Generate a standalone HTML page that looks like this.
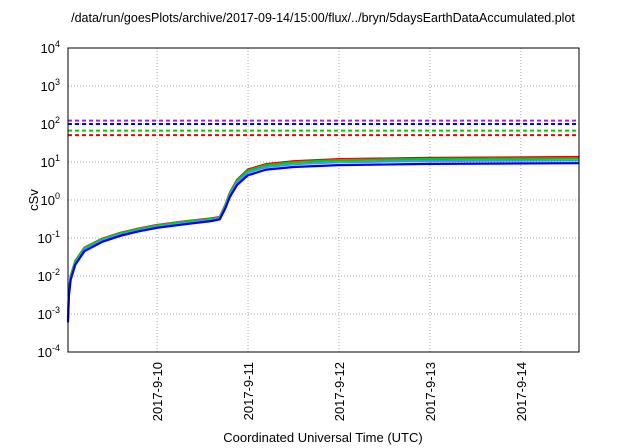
<!DOCTYPE html>
<html><head><meta charset="utf-8"><style>
body{margin:0;background:#fff}
svg{display:block;font-family:"Liberation Sans",sans-serif}
</style></head><body>
<svg width="640" height="448" viewBox="0 0 640 448">
<g id="plot"></g>
</svg>
<script>
const xTicks=["2017-9-10","2017-9-11","2017-9-12","2017-9-13","2017-9-14"];
const yExps=[-4,-3,-2,-1,0,1,2,3,4];
const days=[-0.98,-0.97,-0.95,-0.9,-0.8,-0.6,-0.4,-0.2,0,0.3,0.6,0.69,0.75,0.8,0.88,1.0,1.2,1.5,2.0,3.0,4.64];
const blueVals=[0.0006,0.003,0.008,0.02,0.045,0.08,0.115,0.15,0.185,0.23,0.28,0.31,0.6,1.2,2.5,4.5,6.3,7.4,8.3,8.9,9.3];
const cyanVals=[0.0007,0.0035,0.009,0.022,0.05,0.088,0.125,0.16,0.2,0.25,0.3,0.33,0.66,1.35,2.9,5.3,7.4,8.7,9.9,10.6,11.1];
const greenVals=[0.0008,0.004,0.01,0.025,0.055,0.095,0.135,0.175,0.215,0.27,0.32,0.35,0.72,1.5,3.2,6,8.3,9.9,11.2,12,12.6];
const redVals=[0.0008,0.004,0.01,0.025,0.056,0.097,0.138,0.178,0.22,0.275,0.33,0.36,0.74,1.55,3.4,6.4,8.8,10.5,11.9,12.8,13.5];
const limitVals=[123,100,67,51];
const limitColors=["#a020f0","#0000ff","#00cc00","#ee0000"];
const limitNames=["limit-purple","limit-blue","limit-green","limit-red"];
const X0=68,X1=579,Y0=48,Y1=352,DMIN=-0.98,DMAX=4.64;
const xs=d=>X0+(d-DMIN)/(DMAX-DMIN)*(X1-X0);
const ys=v=>Y1-(Math.log10(v)+4)/8*(Y1-Y0);
const NS="http://www.w3.org/2000/svg";
const g=document.getElementById('plot');
function mk(t,a,p){const e=document.createElementNS(NS,t);for(const k in a)e.setAttribute(k,a[k]);(p||g).appendChild(e);return e;}
// grid + y ticks
yExps.forEach(n=>{
 const y=ys(Math.pow(10,n));
 if(n>-4&&n<4){const l=mk('line',{x1:X0,x2:X1,y1:y,y2:y,stroke:'#aaa','stroke-dasharray':'1,2','stroke-width':1});
 }
 const t=mk('text',{x:60,y:y+5,'text-anchor':'end','font-size':13,fill:'#000'});
 
 t.textContent='10';const s=mk('tspan',{dy:-6,'font-size':9},t);s.textContent=String(n);
});
xTicks.forEach((lab,i)=>{
 const x=xs(i);
 const l=mk('line',{x1:x,x2:x,y1:Y0,y2:Y1,stroke:'#aaa','stroke-dasharray':'1,2','stroke-width':1});
 
 const t=mk('text',{x:0,y:0,transform:`translate(${x+5},362) rotate(-90)`,'text-anchor':'end','font-size':13,fill:'#000'});
 
 t.textContent=lab;
});
// limit lines
limitVals.forEach((v,i)=>{
 const l=mk('line',{x1:X0,x2:X1,y1:ys(v),y2:ys(v),stroke:limitColors[i],'stroke-width':2,'stroke-dasharray':'4,3'});
 
});
// series
[[redVals,'#ee0000','series-red'],[greenVals,'#00cc00','series-green'],[cyanVals,'#3399ff','series-lightblue'],[blueVals,'#0000ee','series-blue']].forEach(([vals,c,nm])=>{
 const pts=days.map((d,i)=>xs(d).toFixed(1)+','+ys(vals[i]).toFixed(1)).join(' ');
 const p=mk('polyline',{points:pts,fill:'none',stroke:c,'stroke-width':2.2,'stroke-linejoin':'round'});
 
});
const fr=mk('rect',{x:X0,y:Y0,width:X1-X0,height:Y1-Y0,fill:'none',stroke:'#000','stroke-width':1});

const tt=mk('text',{x:323,y:22,'text-anchor':'middle','font-size':12.5,fill:'#000'});

tt.textContent='/data/run/goesPlots/archive/2017-09-14/15:00/flux/../bryn/5daysEarthDataAccumulated.plot';
const yt=mk('text',{x:0,y:0,transform:'translate(38,200) rotate(-90)','text-anchor':'middle','font-size':13,fill:'#000'});

yt.textContent='cSv';
const xt=mk('text',{x:323,y:442,'text-anchor':'middle','font-size':13,fill:'#000'});

xt.textContent='Coordinated Universal Time (UTC)';
</script>
</body></html>
